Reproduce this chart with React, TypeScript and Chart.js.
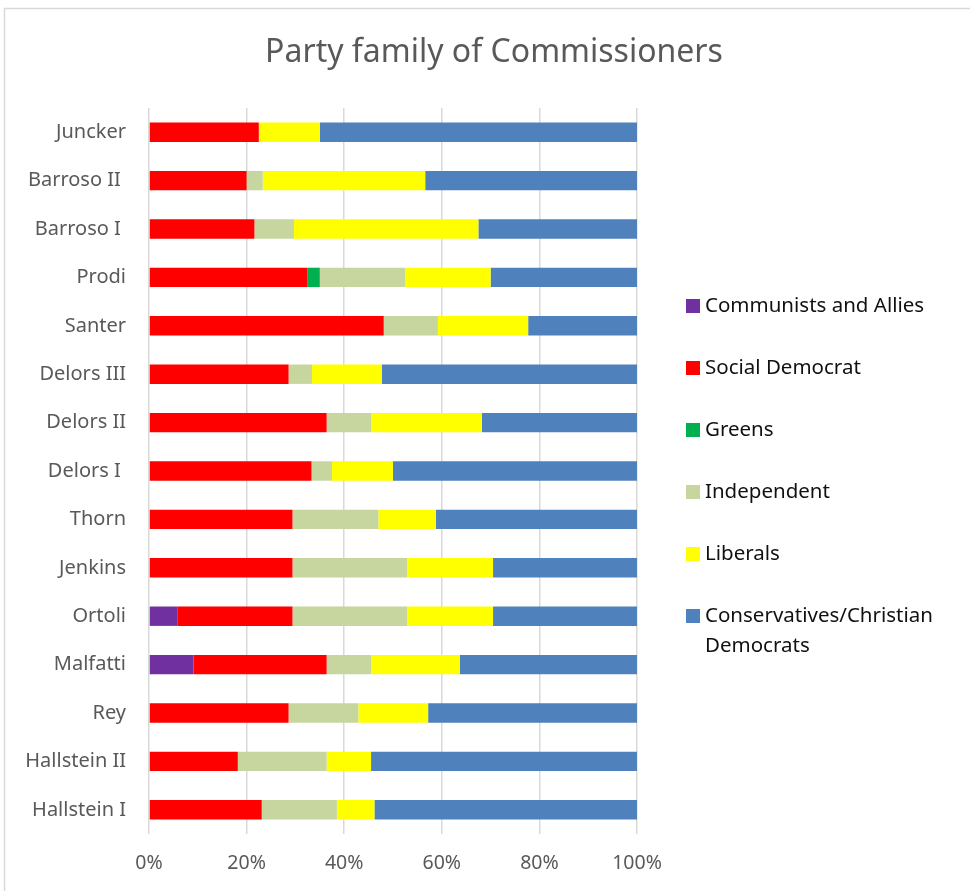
import React, { useEffect, useRef } from "react";
import { Chart, registerables } from "chart.js";

Chart.register(...registerables);

const categories = [
  "Juncker",
  "Barroso II ",
  "Barroso I ",
  "Prodi",
  "Santer",
  "Delors III",
  "Delors II",
  "Delors I ",
  "Thorn",
  "Jenkins",
  "Ortoli",
  "Malfatti",
  "Rey",
  "Hallstein II",
  "Hallstein I",
];

const communists = [0, 0, 0, 0, 0, 0, 0, 0, 0, 0, 5.9, 9.1, 0, 0, 0];
const socialDemocrat = [22.5, 20.0, 21.6, 32.5, 48.1, 28.6, 36.4, 33.3, 29.4, 29.4, 23.5, 27.3, 28.6, 18.2, 23.1];
const greens = [0, 0, 0, 2.5, 0, 0, 0, 0, 0, 0, 0, 0, 0, 0, 0];
const independent = [0, 3.3, 8.1, 17.5, 11.1, 4.8, 9.1, 4.2, 17.6, 23.5, 23.5, 9.1, 14.3, 18.2, 15.4];
const liberals = [12.5, 33.3, 37.8, 17.5, 18.5, 14.3, 22.7, 12.5, 11.8, 17.6, 17.6, 18.2, 14.3, 9.1, 7.7];
const conservatives = [65.0, 43.4, 32.5, 30.0, 22.3, 52.3, 31.8, 50.0, 41.2, 29.5, 29.5, 36.3, 42.8, 54.5, 53.8];

const seriesNames = [
  "Communists and Allies",
  "Social Democrat",
  "Greens",
  "Independent",
  "Liberals",
  "Conservatives/Christian Democrats",
];
const legendLines = [
  ["Communists and Allies"],
  ["Social Democrat"],
  ["Greens"],
  ["Independent"],
  ["Liberals"],
  ["Conservatives/Christian", "Democrats"],
];
const seriesColors = ["#7030A0", "#FF0000", "#00B050", "#C6D69E", "#FFFF00", "#4F81BD"];
const xTicks = [0, 20, 40, 60, 80, 100];
const titleText = "Party family of Commissioners";

const FONT = '"Noto Sans", "Open Sans", sans-serif';

const decorPlugin = {
  id: "decor",
  afterDraw(chart: any) {
    const ctx = chart.ctx;
    ctx.save();
    // outer frame (top and left edges)
    ctx.strokeStyle = "#d9d9d9";
    ctx.lineWidth = 1.5;
    ctx.beginPath();
    ctx.moveTo(4.5, 891);
    ctx.lineTo(4.5, 8.5);
    ctx.lineTo(970, 8.5);
    ctx.stroke();
    // title
    ctx.fillStyle = "#595959";
    ctx.font = `32px ${FONT}`;
    ctx.textAlign = "center";
    ctx.textBaseline = "middle";
    ctx.fillText(titleText, 494, 53);
    // legend
    const boxX = 686;
    const textX = 705;
    const startY = 306;
    const step = 62;
    ctx.font = `20.5px ${FONT}`;
    ctx.textBaseline = "middle";
    ctx.textAlign = "left";
    chart.data.datasets.forEach((ds: any, i: number) => {
      const cy = startY + i * step;
      ctx.fillStyle = ds.backgroundColor;
      ctx.fillRect(boxX, cy - 7, 14, 14);
      ctx.fillStyle = "#111111";
      legendLines[i].forEach((line, j) => {
        ctx.fillText(line, textX, cy + j * 30);
      });
    });
    ctx.restore();
  },
};

export default function App() {
  const canvasRef = useRef<HTMLCanvasElement | null>(null);

  useEffect(() => {
    const canvas = canvasRef.current;
    if (!canvas) return;
    const values = [communists, socialDemocrat, greens, independent, liberals, conservatives];
    const chart = new Chart(canvas, {
      type: "bar",
      data: {
        labels: categories,
        datasets: values.map((data, i) => ({
          label: seriesNames[i],
          data,
          backgroundColor: seriesColors[i],
          borderWidth: 0,
          categoryPercentage: 1,
          barPercentage: 0.4,
        })),
      },
      options: {
        indexAxis: "y",
        responsive: false,
        animation: false,
        layout: { padding: { top: 108, left: 0, right: 333, bottom: 0 } },
        plugins: {
          legend: { display: false },
          tooltip: { enabled: false },
          title: { display: false },
        },
        scales: {
          x: {
            stacked: true,
            min: 0,
            max: 100,
            afterBuildTicks: (scale: any) => {
              scale.ticks = xTicks.map((v) => ({ value: v }));
            },
            afterFit: (scale: any) => {
              scale.height = 57;
            },
            ticks: {
              color: "#595959",
              font: { family: FONT, size: 19.5 },
              padding: 18,
              callback: (v: any) => `${v}%`,
            },
            grid: { color: "#d9d9d9", lineWidth: 1.5, drawTicks: false },
            border: { display: false },
          },
          y: {
            stacked: true,
            afterFit: (scale: any) => {
              scale.width = 149;
            },
            ticks: {
              color: "#595959",
              font: { family: FONT, size: 20 },
              padding: 23,
              autoSkip: false,
            },
            grid: { display: false, drawTicks: false },
            border: { display: false },
          },
        },
      },
      plugins: [decorPlugin],
    } as any);
    return () => chart.destroy();
  }, []);

  return (
    <div style={{ position: "fixed", left: 0, top: 0, width: 970, height: 891, background: "#fff" }}>
      <canvas ref={canvasRef} width={970} height={891} />
    </div>
  );
}
